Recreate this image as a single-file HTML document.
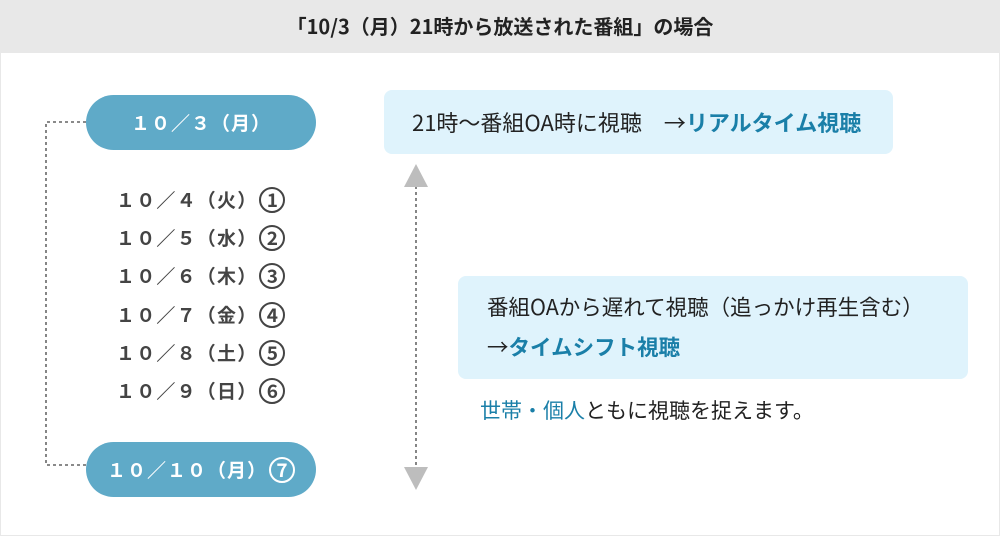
<!DOCTYPE html>
<html><head><meta charset="utf-8"><style>
*{margin:0;padding:0;box-sizing:border-box}
body{width:1000px;height:536px;background:#e8e8e8;position:relative;overflow:hidden;font-family:"Noto Sans CJK JP","Liberation Sans",sans-serif}
.main{position:absolute;left:1px;top:53px;width:998px;height:482px;background:#fff}
.a{position:absolute;white-space:nowrap}
.hdr{left:0;top:11px;width:1000px;text-align:center;font-size:20px;font-weight:bold;color:#222;line-height:30px}
.pill{position:absolute;left:86px;width:230px;height:55px;border-radius:28px;background:#5faac8;color:#fff;font-weight:bold;font-size:19px;line-height:55px;text-align:center;letter-spacing:1px}
.row{position:absolute;left:116px;font-size:19px;font-weight:bold;color:#444;line-height:26px;letter-spacing:1.2px}
.c{display:inline-block;width:26px;height:26px;border:2px solid #444;border-radius:50%;text-align:center;line-height:22px;font-size:19px;letter-spacing:0;vertical-align:top;margin-left:2px}
.pill .c{border-color:#fff;line-height:22px;vertical-align:middle;margin-top:-4px}
.box{position:absolute;background:#dff3fc;border-radius:8px}
.t{color:#222;line-height:30px}
.b{color:#1a7fa8;font-weight:bold}
.bl{color:#1a7fa8}
</style></head><body>
<div class="a hdr">「10/3（月）21時から放送された番組」の場合</div>
<div class="main"></div>
<svg class="a" style="left:0;top:0" width="1000" height="536">
<path d="M86 122H46V465H86" fill="none" stroke="#444" stroke-width="1.3" stroke-dasharray="3,3"/>
<line x1="416" y1="186" x2="416" y2="468" stroke="#444" stroke-width="1.3" stroke-dasharray="3,3"/>
<polygon points="416,164 404,187 428,187" fill="#bdbdbd"/>
<polygon points="416,490 404,467 428,467" fill="#bdbdbd"/>
</svg>
<div class="pill" style="top:95px">１０／３（月）</div>
<div class="pill" style="top:442px">１０／１０（月）<span class="c">7</span></div>
<div class="row" style="top:187px">１０／４（火）<span class="c">1</span></div>
<div class="row" style="top:225px">１０／５（水）<span class="c">2</span></div>
<div class="row" style="top:263px">１０／６（木）<span class="c">3</span></div>
<div class="row" style="top:302px">１０／７（金）<span class="c">4</span></div>
<div class="row" style="top:340px">１０／８（土）<span class="c">5</span></div>
<div class="row" style="top:378px">１０／９（日）<span class="c">6</span></div>
<div class="box" style="left:384px;top:90px;width:509px;height:64px"></div>
<div class="a t" style="left:412px;top:107px;font-size:22px">21時〜番組OA時に視聴　→<span class="b">リアルタイム視聴</span></div>
<div class="box" style="left:458px;top:276px;width:510px;height:103px"></div>
<div class="a t" style="left:487px;top:292px;font-size:21.5px">番組OAから遅れて視聴（追っかけ再生含む）</div>
<div class="a t" style="left:487px;top:332px;font-size:21.5px">→<span class="b">タイムシフト視聴</span></div>
<div class="a t" style="left:480px;top:395px;font-size:21px"><span class="bl">世帯・個人</span>ともに視聴を捉えます。</div>
</body></html>
